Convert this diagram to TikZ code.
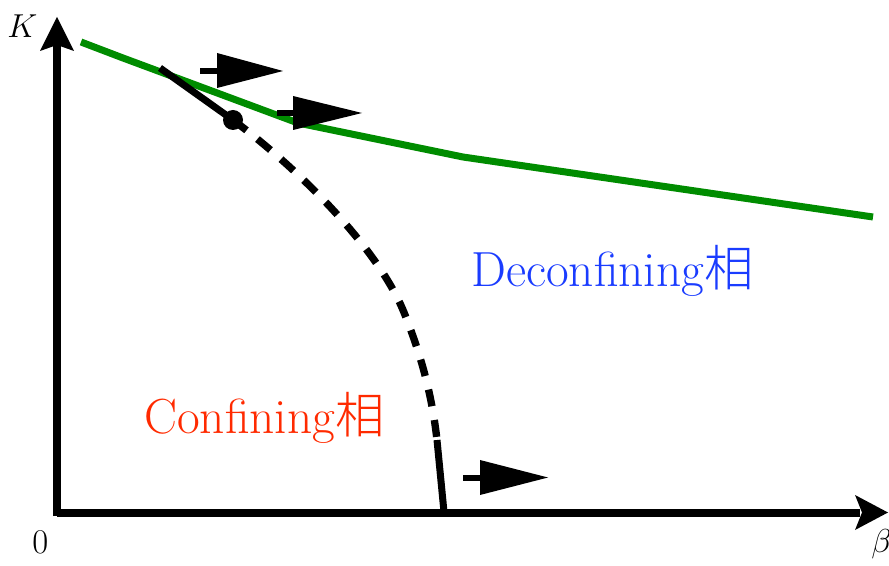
\documentclass[tikz,border=0pt]{standalone}
\usepackage{fontspec}
\IfFontExistsTF{Noto Sans CJK JP Light}{%
  \newfontfamily\cjkfont{Noto Sans CJK JP Light}}{%
  \newfontfamily\cjkfont{Noto Sans CJK JP}}
\definecolor{curvegreen}{RGB}{0,140,0}
\definecolor{confred}{RGB}{255,42,0}
\definecolor{deconfblue}{RGB}{26,60,255}
\begin{document}
\begin{tikzpicture}[x=0.75pt,y=-0.75pt,
  axisline/.style={line width=6pt,black},
  greenline/.style={line width=5.25pt,curvegreen,line join=round},
  blackline/.style={line width=5.25pt,black},
  dashline/.style={line width=5.5pt,black,dash pattern=on 12.75pt off 10.5pt},
  stemline/.style={line width=4.5pt,black},
  phaselabel/.style={anchor=base west,inner sep=0pt,font=\fontsize{37}{42}\selectfont},
  axislabel/.style={anchor=base west,inner sep=0pt,font=\fontsize{26}{30}\selectfont}]
\useasboundingbox (0,0) rectangle (889,566);
% axes
\coordinate (O) at (57,512.5);
\coordinate (Ktip) at (57,17);
\coordinate (Btip) at (888,512.5);
\draw[axisline] (57,516) -- (57,45);
\draw[axisline] (O) -- (860,512.5);
\fill (Ktip) -- (74,51) -- (57,45) -- (40,51) -- cycle;
\fill (Btip) -- (855,530) -- (862,512.5) -- (855,495) -- cycle;
% labels
\node[axislabel] (K) at (7,38) {$K$};
\node[axislabel] (zero) at (32,553) {0};
\node[axislabel] (beta) at (871,552) {$\beta$};
% green line
\draw[greenline] (81,42) -- (123,58) -- (298,123) -- (463,157) -- (873,217);
% black solid line and dot
\coordinate (s) at (160,68);
\coordinate (d) at (233,120);
\draw[blackline] (s) -- (d);
\fill (d) circle[radius=10];
% dashed curve
\coordinate (e) at (437,440);
\draw[dashline] (d) .. controls (300,170) and (380,250) .. (405,315) .. controls (425,365) and (433,405) .. (e);
\draw[blackline] (e) -- (444,512);
% small arrows
\draw[stemline] (200,71) -- (220,71);
\fill (283,71) -- (217,88) -- (217,53) -- cycle;
\draw[stemline] (277,113) -- (296,113);
\fill (362,113) -- (293,130) -- (293,96) -- cycle;
\draw[stemline] (463,477.5) -- (483,477.5);
\fill (548,477.5) -- (480,495) -- (480,460) -- cycle;
% phase labels
\node[phaselabel,text=deconfblue] (dec) at (471,287) {Deconfining{\cjkfont 相}};
\node[phaselabel,text=confred] (conf) at (144,434) {Confining{\cjkfont 相}};
\end{tikzpicture}
\end{document}
